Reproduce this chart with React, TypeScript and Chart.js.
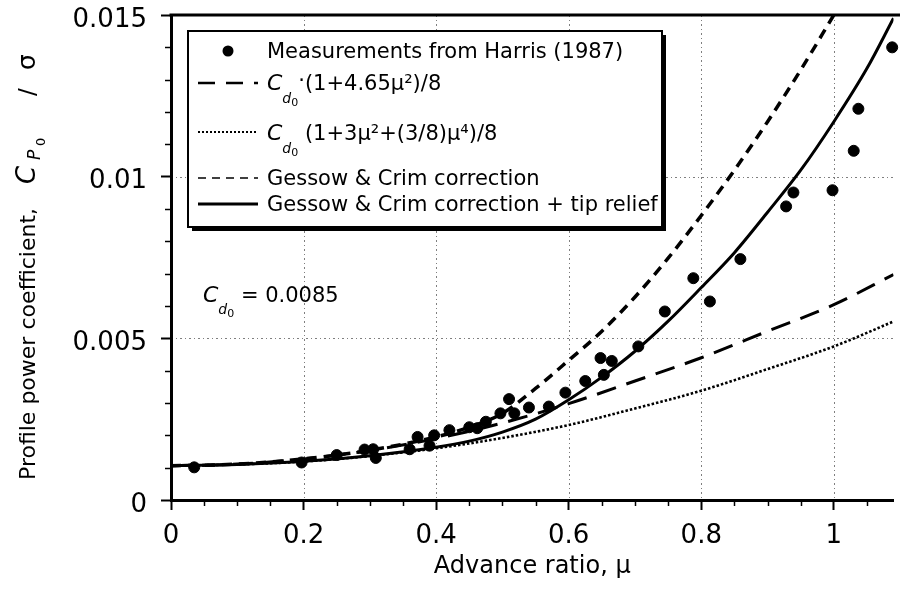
import React, { useEffect, useRef } from 'react';
import { Chart, registerables } from 'chart.js';

Chart.register(...registerables);

// ---- data ----
const harrisMu = [0.035, 0.197, 0.25, 0.292, 0.305, 0.309, 0.36, 0.372, 0.39, 0.397, 0.42, 0.45, 0.462, 0.475, 0.497, 0.51, 0.518, 0.54, 0.57, 0.595, 0.625, 0.648, 0.653, 0.665, 0.705, 0.745, 0.788, 0.813, 0.859, 0.928, 0.939, 0.998, 1.03, 1.037, 1.088];
const harrisCp = [0.00101, 0.00116, 0.00139, 0.00156, 0.00157, 0.0013, 0.00157, 0.00195, 0.00168, 0.002, 0.00216, 0.00225, 0.00222, 0.00242, 0.00268, 0.00312, 0.00268, 0.00286, 0.00289, 0.00332, 0.00368, 0.00439, 0.00387, 0.0043, 0.00475, 0.00583, 0.00686, 0.00614, 0.00745, 0.00908, 0.00951, 0.00958, 0.0108, 0.0121, 0.014];

const muLongDash = [0, 0.1, 0.2, 0.3, 0.4, 0.5, 0.6, 0.7, 0.8, 0.9, 1.0, 1.09];
const cpLongDash = [0.00106, 0.00111, 0.00127, 0.00153, 0.0019, 0.00238, 0.00298, 0.00368, 0.0044, 0.00522, 0.00604, 0.00697];

const muDotted = [0, 0.1, 0.2, 0.3, 0.4, 0.5, 0.6, 0.7, 0.8, 0.9, 1.0, 1.09];
const cpDotted = [0.00106, 0.0011, 0.00119, 0.00136, 0.0016, 0.00192, 0.00232, 0.00283, 0.00338, 0.00405, 0.00475, 0.00552];

const muGessow = [0, 0.1, 0.2, 0.3, 0.4, 0.45, 0.5, 0.55, 0.6, 0.65, 0.7, 0.75, 0.8, 0.85, 0.9, 0.95, 1.0];
const cpGessow = [0.00106, 0.00111, 0.00127, 0.00154, 0.00195, 0.00225, 0.00268, 0.00345, 0.00432, 0.00522, 0.00628, 0.00748, 0.0088, 0.0102, 0.0117, 0.0133, 0.015];

const muTipRelief = [0, 0.1, 0.2, 0.3, 0.4, 0.45, 0.5, 0.55, 0.6, 0.65, 0.7, 0.75, 0.8, 0.85, 0.9, 0.95, 1.0, 1.05, 1.09];
const cpTipRelief = [0.00106, 0.0011, 0.0012, 0.00137, 0.00163, 0.00182, 0.0021, 0.0025, 0.0031, 0.0038, 0.0046, 0.00553, 0.00657, 0.00765, 0.0089, 0.0102, 0.0117, 0.01335, 0.0149];

const xTickValues = [0, 0.2, 0.4, 0.6, 0.8, 1];
const xTickLabels = ['0', '0.2', '0.4', '0.6', '0.8', '1'];
const yTickValues = [0, 0.005, 0.01, 0.015];
const yTickLabels = ['0', '0.005', '0.01', '0.015'];

const xAxisTitle = 'Advance ratio, \u03bc';
const yAxisTitleMain = 'Profile power coefficient, ';
const legendMeasurements = 'Measurements from Harris (1987)';
const legendLongDash = '(1+4.65\u03bc\u00b2)/8';
const legendDotted = ' (1+3\u03bc\u00b2+(3/8)\u03bc\u2074)/8';
const legendGessow = 'Gessow & Crim correction';
const legendTipRelief = 'Gessow & Crim correction + tip relief';
const cdValueText = ' = 0.0085';

const FAM = '"DejaVu Sans", sans-serif';
const f = (size: number, italic = false) => `${italic ? 'italic ' : ''}${size}px ${FAM}`;

type Run = { t: string; font: string; dy?: number; at?: number };
function drawRuns(ctx: CanvasRenderingContext2D, x: number, y: number, runs: Run[]) {
  let cx = x;
  for (const r of runs) {
    ctx.font = r.font;
    if (r.at !== undefined) cx = r.at;
    ctx.fillText(r.t, cx, y + (r.dy || 0));
    cx += ctx.measureText(r.t).width;
  }
  return cx;
}

const decorPlugin = {
  id: 'decor',
  beforeDatasetsDraw(chart: any) {
    const { ctx, chartArea: a, scales } = chart;
    const x = scales.x, y = scales.y;
    ctx.save();
    ctx.strokeStyle = 'rgba(0,0,0,0.5)';
    ctx.lineWidth = 1;
    ctx.setLineDash([2, 3, 1, 3]);
    for (const v of xTickValues) {
      if (v === 0) continue;
      const px = Math.round(x.getPixelForValue(v)) + 0.5;
      ctx.beginPath(); ctx.moveTo(px, a.top); ctx.lineTo(px, a.bottom); ctx.stroke();
    }
    for (const v of yTickValues) {
      if (v === 0 || v >= y.max) continue;
      const py = Math.round(y.getPixelForValue(v)) + 0.5;
      ctx.beginPath(); ctx.moveTo(a.left, py); ctx.lineTo(a.right, py); ctx.stroke();
    }
    ctx.restore();
  },
  afterDatasetsDraw(chart: any) {
    const { ctx } = chart;
    ctx.save();
    // legend box with shadow
    const LX = 188, LY = 31, LW = 474, LH = 196;
    ctx.fillStyle = '#000';
    ctx.fillRect(LX + 4, LY + 4, LW, LH);
    ctx.fillStyle = '#fff';
    ctx.fillRect(LX, LY, LW, LH);
    ctx.strokeStyle = '#000';
    ctx.lineWidth = 2;
    ctx.strokeRect(LX, LY, LW, LH);

    const sx0 = 198, sx1 = 258, tx = 267;
    ctx.fillStyle = '#000';
    ctx.textBaseline = 'alphabetic';
    ctx.textAlign = 'left';
    // row 1
    ctx.beginPath(); ctx.arc(228, 51, 5.5, 0, Math.PI * 2); ctx.fill();
    ctx.font = f(21);
    ctx.fillText(legendMeasurements, tx, 58);
    // row 2
    ctx.lineWidth = 2.5;
    ctx.setLineDash([17, 11]);
    ctx.beginPath(); ctx.moveTo(sx0, 83); ctx.lineTo(sx1, 83); ctx.stroke();
    drawRuns(ctx, tx, 90, [
      { t: 'C', font: f(22, true) },
      { t: 'd', font: f(14, true), dy: 13 },
      { t: '0', font: f(11), dy: 16 },
      { t: '\u00b7', font: f(21), dy: -3 },
      { t: legendLongDash, font: f(21) },
    ]);
    // row 3
    ctx.lineWidth = 2;
    ctx.setLineDash([2, 2]);
    ctx.beginPath(); ctx.moveTo(sx0, 132); ctx.lineTo(sx1, 132); ctx.stroke();
    drawRuns(ctx, tx, 140, [
      { t: 'C', font: f(22, true) },
      { t: 'd', font: f(14, true), dy: 13 },
      { t: '0', font: f(11), dy: 16 },
      { t: legendDotted, font: f(21) },
    ]);
    // row 4
    ctx.lineWidth = 1.5;
    ctx.setLineDash([8, 6]);
    ctx.beginPath(); ctx.moveTo(sx0, 178); ctx.lineTo(sx1, 178); ctx.stroke();
    ctx.font = f(21);
    ctx.fillText(legendGessow, tx, 185);
    // row 5
    ctx.lineWidth = 3;
    ctx.setLineDash([]);
    ctx.beginPath(); ctx.moveTo(sx0, 204); ctx.lineTo(sx1, 204); ctx.stroke();
    ctx.fillText(legendTipRelief, tx, 211);

    // Cd0 annotation
    drawRuns(ctx, 203, 302, [
      { t: 'C', font: f(22, true) },
      { t: 'd', font: f(14, true), dy: 12 },
      { t: '0', font: f(11), dy: 15 },
      { t: cdValueText, font: f(21) },
    ]);
    ctx.restore();
  },
  afterDraw(chart: any) {
    const { ctx, chartArea: a, scales } = chart;
    const x = scales.x, y = scales.y;
    ctx.save();
    ctx.strokeStyle = '#000';
    // top frame
    ctx.lineWidth = 3;
    ctx.beginPath(); ctx.moveTo(a.left - 1.5, a.top); ctx.lineTo(chart.width, a.top); ctx.stroke();
    // minor ticks
    ctx.lineWidth = 1.5;
    for (let i = 1; i < 15; i++) {
      if (i % 5 === 0) continue;
      const py = Math.round(y.getPixelForValue(i * 0.001)) + 0.5;
      ctx.beginPath(); ctx.moveTo(a.left - 6, py); ctx.lineTo(a.left, py); ctx.stroke();
    }
    for (let i = 1; i <= 21; i++) {
      if (i % 4 === 0) continue;
      const px = Math.round(x.getPixelForValue(i * 0.05)) + 0.5;
      ctx.beginPath(); ctx.moveTo(px, a.bottom); ctx.lineTo(px, a.bottom + 6); ctx.stroke();
    }
    // axis titles
    ctx.fillStyle = '#000';
    ctx.textBaseline = 'alphabetic';
    ctx.font = f(24);
    ctx.textAlign = 'center';
    ctx.fillText(xAxisTitle, (a.left + a.right) / 2, 573);
    ctx.textAlign = 'left';
    ctx.translate(35, 480);
    ctx.rotate(-Math.PI / 2);
    ctx.font = f(22);
    ctx.fillText(yAxisTitleMain, 0, 0);
    drawRuns(ctx, 0, 0, [
      { t: 'C', font: f(26, true), at: 296 },
      { t: 'P', font: f(17, true), dy: 5, at: 320 },
      { t: '0', font: f(13), dy: 10, at: 334 },
      { t: '/', font: f(23), at: 384 },
      { t: '\u03c3', font: f(25), at: 410 },
    ]);
    ctx.restore();
  },
};

const pts = (xs: number[], ys: number[]) => xs.map((v, i) => ({ x: v, y: ys[i] }));

export default function App() {
  const ref = useRef<HTMLCanvasElement | null>(null);
  useEffect(() => {
    if (!ref.current) return;
    const chart = new Chart(ref.current, {
      type: 'scatter',
      data: {
        datasets: [
          {
            label: legendMeasurements,
            data: pts(harrisMu, harrisCp),
            backgroundColor: '#000',
            borderColor: '#000',
            pointRadius: 5.5,
            pointHoverRadius: 5.5,
            showLine: false,
            clip: false as any,
          },
          {
            label: 'long dash',
            data: pts(muLongDash, cpLongDash),
            showLine: true,
            borderColor: '#000',
            borderWidth: 3,
            borderDash: [20, 11],
            pointRadius: 0,
            cubicInterpolationMode: 'monotone',
          },
          {
            label: 'dotted',
            data: pts(muDotted, cpDotted),
            showLine: true,
            borderColor: '#000',
            borderWidth: 2.6,
            borderDash: [2.5, 2],
            pointRadius: 0,
            cubicInterpolationMode: 'monotone',
          },
          {
            label: legendGessow,
            data: pts(muGessow, cpGessow),
            showLine: true,
            borderColor: '#000',
            borderWidth: 3.5,
            borderDash: [10, 7],
            pointRadius: 0,
            cubicInterpolationMode: 'monotone',
          },
          {
            label: legendTipRelief,
            data: pts(muTipRelief, cpTipRelief),
            showLine: true,
            borderColor: '#000',
            borderWidth: 3,
            pointRadius: 0,
            cubicInterpolationMode: 'monotone',
          },
        ],
      } as any,
      options: {
        animation: false,
        responsive: true,
        maintainAspectRatio: false,
        layout: { padding: { top: 15, right: 2, left: 0, bottom: 0 } },
        plugins: { legend: { display: false }, tooltip: { enabled: false } },
        scales: {
          x: {
            type: 'linear',
            min: 0,
            max: 1.09,
            afterBuildTicks: (s: any) => { s.ticks = xTickValues.map((v) => ({ value: v })); },
            afterFit: (s: any) => { s.height = 90; s.paddingLeft = 0; s.paddingRight = 0; },
            ticks: {
              callback: (_v: any, i: number) => xTickLabels[i],
              font: { family: FAM, size: 26 },
              color: '#000',
              padding: 11,
              maxRotation: 0,
              autoSkip: false,
              includeBounds: false,
            },
            grid: { display: true, drawOnChartArea: false, drawTicks: true, tickLength: 10, tickWidth: 2, tickColor: '#000' },
            border: { display: true, color: '#000', width: 3 },
          },
          y: {
            type: 'linear',
            min: 0,
            max: 0.015,
            afterBuildTicks: (s: any) => { s.ticks = yTickValues.map((v) => ({ value: v })); },
            afterFit: (s: any) => { s.width = 171; s.paddingTop = 0; s.paddingBottom = 0; },
            ticks: {
              callback: (_v: any, i: number) => yTickLabels[i],
              font: { family: FAM, size: 26 },
              color: '#000',
              padding: 14,
              labelOffset: 5,
              autoSkip: false,
              includeBounds: false,
            },
            grid: { display: true, drawOnChartArea: false, drawTicks: true, tickLength: 10, tickWidth: 2, tickColor: '#000' },
            border: { display: true, color: '#000', width: 3 },
          },
        },
      } as any,
      plugins: [decorPlugin],
    });
    return () => chart.destroy();
  }, []);
  return (
    <div style={{ position: 'absolute', left: 0, top: 0, width: 900, height: 590, background: '#fff' }}>
      <canvas ref={ref} />
    </div>
  );
}
